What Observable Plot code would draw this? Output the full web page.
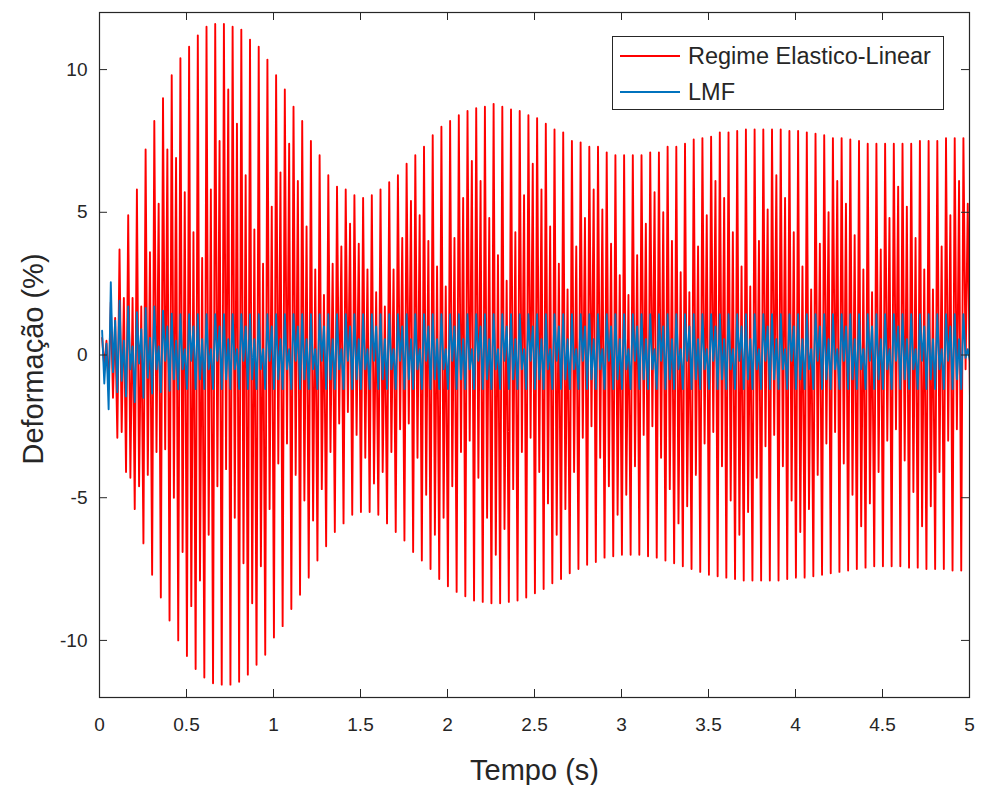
<!DOCTYPE html>
<html>
<head>
<meta charset="utf-8">
<script src="https://cdn.jsdelivr.net/npm/d3@7"></script>
<script src="https://cdn.jsdelivr.net/npm/@observablehq/plot@0.6"></script>
<style>
  html, body { margin: 0; padding: 0; background: #fff; }
  #wrap { position: relative; width: 981px; height: 785px; font-family: "Liberation Sans", Arial, sans-serif; }
  #legend { position: absolute; left: 612px; top: 36px; width: 330px; height: 72px; border: 1px solid #262626; background: #fff; }
  .swatch { position: absolute; left: 7px; width: 60px; height: 2px; }
  .lab { position: absolute; left: 75px; font-size: 23.5px; color: #262626; white-space: nowrap; line-height: 28px; height: 28px; }
</style>
</head>
<body>
<div id="wrap">
  <div id="chart"></div>
  <div id="legend"></div>
</div>
<script>
// ---- Data ----
const seriesNames = ["Regime Elastico-Linear", "LMF"];
const seriesColors = ["#ff0000", "#0072bd"];

// cycle timing (s): one group of strokes every 0.05 s, starting at 0.015 s
const cycleStart = 0.015;
const cyclePeriod = 0.05;

// Regime Elastico-Linear: highest stroke of each group (%)
const redTop = [0.6, 1.85, 3.7, 4.9, 5.8, 7.2, 8.2, 9.0, 9.8, 10.4,
  10.8, 11.2, 11.5, 11.6, 11.6, 11.5, 11.4, 11.05, 10.8, 10.35,
  9.8, 9.3, 8.7, 8.2, 7.5, 7.0, 6.3, 5.9, 5.8, 5.6,
  5.5, 5.6, 5.8, 6.05, 6.3, 6.7, 7.0, 7.3, 7.7, 8.0,
  8.2, 8.4, 8.55, 8.65, 8.7, 8.8, 8.7, 8.6, 8.55, 8.4,
  8.3, 8.1, 7.9, 7.8, 7.5, 7.45, 7.3, 7.3, 7.1, 7.0,
  7.0, 7.0, 7.0, 7.1, 7.1, 7.3, 7.3, 7.4, 7.55, 7.6,
  7.65, 7.8, 7.8, 7.85, 7.9, 7.9, 7.9, 7.9, 7.9, 7.85,
  7.85, 7.8, 7.75, 7.7, 7.6, 7.6, 7.55, 7.5, 7.4, 7.4,
  7.4, 7.4, 7.4, 7.4, 7.5, 7.5, 7.5, 7.6, 7.6, 7.6];
// Regime Elastico-Linear: shorter upward stroke inside each group (%)
const redTopInner = [0.5, 1.3, 2.0, 2.0, 1.7, 3.6, 5.3, 7.2, 6.9, 5.7,
  4.3, 3.4, 5.8, 7.5, 9.3, 8.1, 6.3, 4.4, 3.2, 5.2,
  6.4, 7.4, 6.1, 4.5, 3.0, 2.1, 3.2, 3.8, 4.6, 3.9,
  3.0, 2.2, 1.7, 3.0, 4.1, 5.4, 4.9, 4.0, 3.1, 2.4,
  4.1, 5.5, 6.8, 6.1, 4.8, 3.5, 2.6, 4.3, 5.6, 6.7,
  5.8, 4.5, 3.2, 2.3, 3.8, 4.8, 5.8, 5.1, 3.9, 2.8,
  2.1, 3.5, 4.6, 5.7, 5.0, 4.0, 2.9, 2.2, 3.8, 4.9,
  6.1, 5.5, 4.3, 3.1, 2.4, 4.0, 5.1, 6.3, 5.5, 4.3,
  3.1, 2.3, 3.9, 5.0, 6.1, 5.3, 4.2, 3.0, 2.2, 3.7,
  4.8, 5.9, 5.2, 4.1, 3.0, 2.3, 3.8, 4.9, 6.1, 5.3];
// Regime Elastico-Linear: lowest stroke of each group (%)
const redBottom = [-1.2, -2.9, -4.1, -5.4, -6.6, -7.7, -8.5, -9.3, -10.0, -10.55,
  -11.0, -11.3, -11.5, -11.55, -11.55, -11.45, -11.2, -10.85, -10.5, -9.9,
  -9.5, -8.9, -8.4, -7.8, -7.2, -6.7, -6.2, -5.9, -5.6, -5.5,
  -5.5, -5.6, -5.9, -6.2, -6.5, -6.9, -7.2, -7.5, -7.85, -8.1,
  -8.3, -8.45, -8.6, -8.65, -8.7, -8.7, -8.65, -8.6, -8.5, -8.35,
  -8.2, -8.0, -7.85, -7.65, -7.5, -7.35, -7.25, -7.1, -7.05, -7.0,
  -7.0, -7.0, -7.05, -7.1, -7.2, -7.3, -7.4, -7.5, -7.6, -7.7,
  -7.75, -7.8, -7.85, -7.9, -7.9, -7.9, -7.9, -7.9, -7.85, -7.8,
  -7.8, -7.75, -7.7, -7.65, -7.6, -7.55, -7.5, -7.45, -7.4, -7.4,
  -7.4, -7.4, -7.45, -7.45, -7.5, -7.5, -7.5, -7.55, -7.55, -1.4];
// Regime Elastico-Linear: shorter downward stroke inside each group (%)
const redBottomInner = [-0.4, -1.5, -2.7, -4.3, -4.6, -4.2, -3.4, -3.3, -5.0, -6.9,
  -8.8, -7.9, -6.3, -4.6, -4.0, -5.7, -7.3, -8.7, -7.4, -5.4,
  -3.8, -3.1, -4.2, -5.1, -5.8, -4.7, -3.4, -2.4, -2.0, -2.8,
  -3.6, -4.5, -4.1, -3.4, -2.6, -2.4, -3.6, -4.9, -6.3, -5.7,
  -4.6, -3.4, -3.0, -4.3, -5.7, -7.0, -6.1, -4.7, -3.4, -2.9,
  -4.1, -5.2, -6.3, -5.4, -4.1, -2.9, -2.5, -3.6, -4.6, -5.6,
  -4.9, -3.9, -2.8, -2.5, -3.6, -4.7, -5.9, -5.3, -4.2, -3.1,
  -2.7, -3.9, -5.1, -6.3, -5.5, -4.3, -3.2, -2.8, -3.9, -5.1,
  -6.2, -5.4, -4.2, -3.1, -2.7, -3.8, -4.9, -6.0, -5.2, -4.1,
  -3.0, -2.6, -3.7, -4.8, -6.0, -5.3, -4.1, -3.0, -2.6, -0.5];

// LMF: highest stroke of each group (%), flat at the yield level after ~0.45 s
const blueTop = [0.85, 2.55, 1.9, 1.7, 1.5, 1.65, 1.7, 1.55, 1.45, 1.43,
  1.43, 1.43, 1.43, 1.43, 1.43, 1.43, 1.43, 1.43, 1.43, 1.43,
  1.43, 1.43, 1.43, 1.43, 1.43, 1.43, 1.43, 1.43, 1.43, 1.43,
  1.43, 1.43, 1.43, 1.43, 1.43, 1.43, 1.43, 1.43, 1.43, 1.43,
  1.43, 1.43, 1.43, 1.43, 1.43, 1.43, 1.43, 1.43, 1.43, 1.43,
  1.43, 1.43, 1.43, 1.43, 1.43, 1.43, 1.43, 1.43, 1.43, 1.43,
  1.43, 1.43, 1.43, 1.43, 1.43, 1.43, 1.43, 1.43, 1.43, 1.43,
  1.43, 1.43, 1.43, 1.43, 1.43, 1.43, 1.43, 1.43, 1.43, 1.43,
  1.43, 1.43, 1.43, 1.43, 1.43, 1.43, 1.43, 1.43, 1.43, 1.43,
  1.43, 1.43, 1.43, 1.43, 1.43, 1.43, 1.43, 1.43, 1.43, 1.43];
// LMF: shorter upward stroke inside each group (%)
const blueTopInner = [0.4, 1.2, 0.5, 0.3, 0.9, 0.6, 0.3, 1.0, 0.5, 0.2,
  1.0, 0.55, 0.2, 1.0, 0.55, 0.2, 1.0, 0.55, 0.2, 1.0,
  0.55, 0.2, 1.0, 0.55, 0.2, 1.0, 0.55, 0.2, 1.0, 0.55,
  0.2, 1.0, 0.55, 0.2, 1.0, 0.55, 0.2, 1.0, 0.55, 0.2,
  1.0, 0.55, 0.2, 1.0, 0.55, 0.2, 1.0, 0.55, 0.2, 1.0,
  0.55, 0.2, 1.0, 0.55, 0.2, 1.0, 0.55, 0.2, 1.0, 0.55,
  0.2, 1.0, 0.55, 0.2, 1.0, 0.55, 0.2, 1.0, 0.55, 0.2,
  1.0, 0.55, 0.2, 1.0, 0.55, 0.2, 1.0, 0.55, 0.2, 1.0,
  0.55, 0.2, 1.0, 0.55, 0.2, 1.0, 0.55, 0.2, 1.0, 0.55,
  0.2, 1.0, 0.55, 0.2, 1.0, 0.55, 0.2, 1.0, 0.55, 0.2];
// LMF: lowest stroke of each group (%)
const blueBottom = [-1.9, -1.3, -1.45, -1.65, -1.5, -1.35, -1.3, -1.25, -1.2, -1.19,
  -1.19, -1.19, -1.19, -1.19, -1.19, -1.19, -1.19, -1.19, -1.19, -1.19,
  -1.19, -1.19, -1.19, -1.19, -1.19, -1.19, -1.19, -1.19, -1.19, -1.19,
  -1.19, -1.19, -1.19, -1.19, -1.19, -1.19, -1.19, -1.19, -1.19, -1.19,
  -1.19, -1.19, -1.19, -1.19, -1.19, -1.19, -1.19, -1.19, -1.19, -1.19,
  -1.19, -1.19, -1.19, -1.19, -1.19, -1.19, -1.19, -1.19, -1.19, -1.19,
  -1.19, -1.19, -1.19, -1.19, -1.19, -1.19, -1.19, -1.19, -1.19, -1.19,
  -1.19, -1.19, -1.19, -1.19, -1.19, -1.19, -1.19, -1.19, -1.19, -1.19,
  -1.19, -1.19, -1.19, -1.19, -1.19, -1.19, -1.19, -1.19, -1.19, -1.19,
  -1.19, -1.19, -1.19, -1.19, -1.19, -1.19, -1.19, -1.19, -1.19, -0.2];
// LMF: shorter downward stroke inside each group (%)
const blueBottomInner = [-1.0, -0.6, -0.9, -0.5, -0.3, -0.8, -0.5, -0.2, -0.85, -0.5,
  -0.2, -0.85, -0.5, -0.2, -0.85, -0.5, -0.2, -0.85, -0.5, -0.2,
  -0.85, -0.5, -0.2, -0.85, -0.5, -0.2, -0.85, -0.5, -0.2, -0.85,
  -0.5, -0.2, -0.85, -0.5, -0.2, -0.85, -0.5, -0.2, -0.85, -0.5,
  -0.2, -0.85, -0.5, -0.2, -0.85, -0.5, -0.2, -0.85, -0.5, -0.2,
  -0.85, -0.5, -0.2, -0.85, -0.5, -0.2, -0.85, -0.5, -0.2, -0.85,
  -0.5, -0.2, -0.85, -0.5, -0.2, -0.85, -0.5, -0.2, -0.85, -0.5,
  -0.2, -0.85, -0.5, -0.2, -0.85, -0.5, -0.2, -0.85, -0.5, -0.2,
  -0.85, -0.5, -0.2, -0.85, -0.5, -0.2, -0.85, -0.5, -0.2, -0.85,
  -0.5, -0.2, -0.85, -0.5, -0.2, -0.85, -0.5, -0.2, -0.85, -0.1];

const xTicks = [0, 0.5, 1, 1.5, 2, 2.5, 3, 3.5, 4, 4.5, 5];
const yTicks = [-10, -5, 0, 5, 10];
const xLabel = "Tempo (s)";
const yLabel = "Deformação (%)";

// ---- Build rows: four alternating samples per group (top, low, high, bottom) ----
function samples(top, topIn, bottom, bottomIn, series) {
  const rows = [];
  top.forEach((v, i) => {
    const t = cycleStart + i * cyclePeriod;
    rows.push({series, t, v});
    rows.push({series, t: t + cyclePeriod * 0.25, v: bottomIn[i]});
    rows.push({series, t: t + cyclePeriod * 0.5, v: topIn[i]});
    rows.push({series, t: t + cyclePeriod * 0.75, v: bottom[i]});
  });
  return rows;
}
const redRows = samples(redTop, redTopInner, redBottom, redBottomInner, seriesNames[0]);
const blueRows = samples(blueTop, blueTopInner, blueBottom, blueBottomInner, seriesNames[1]);

const W = 981, H = 785, mL = 99, mR = 12, mT = 12, mB = 88;
const plotH = H - mT - mB, plotW = W - mL - mR;
const ink = "#262626";

const chart = Plot.plot({
  width: W, height: H,
  marginLeft: mL, marginRight: mR, marginTop: mT, marginBottom: mB,
  style: {fontFamily: '"Liberation Sans", Arial, sans-serif', color: ink, background: "#fff"},
  x: {domain: [0, 5]},
  y: {domain: [-12, 12]},
  marks: [
    Plot.line(redRows, {x: "t", y: "v", stroke: seriesColors[0], strokeWidth: 1.9, clip: true}),
    Plot.line(blueRows, {x: "t", y: "v", stroke: seriesColors[1], strokeWidth: 1.9, clip: true}),
    Plot.frame({stroke: ink, strokeWidth: 1.2}),
    // inward ticks on all four sides
    Plot.ruleX(xTicks, {x: d => d, stroke: ink, insetTop: plotH - 8}),
    Plot.ruleX(xTicks, {x: d => d, stroke: ink, insetBottom: plotH - 8}),
    Plot.ruleY(yTicks, {y: d => d, stroke: ink, insetRight: plotW - 8}),
    Plot.ruleY(yTicks, {y: d => d, stroke: ink, insetLeft: plotW - 8}),
    Plot.axisX(xTicks, {tickSize: 0, tickPadding: 20, fontSize: 19, tickFormat: d => String(d), label: null, fill: ink}),
    Plot.axisY(yTicks, {tickSize: 0, tickPadding: 12, fontSize: 19, tickFormat: d => String(d), label: null, fill: ink}),
    Plot.text([xLabel], {frameAnchor: "bottom", dy: 73, lineAnchor: "middle", textAnchor: "middle", fontSize: 29, fill: ink, text: d => d}),
    Plot.text([yLabel], {frameAnchor: "left", dx: -66, dy: 4, rotate: -90, lineAnchor: "middle", textAnchor: "middle", fontSize: 29, fill: ink, text: d => d})
  ]
});
document.getElementById("chart").appendChild(chart);

// legend
const leg = document.getElementById("legend");
const rowsY = [5, 41];
seriesNames.forEach((name, i) => {
  const sw = document.createElement("div");
  sw.className = "swatch";
  sw.style.top = (rowsY[i] + 13) + "px";
  sw.style.background = seriesColors[i];
  leg.appendChild(sw);
  const lb = document.createElement("div");
  lb.className = "lab";
  lb.style.top = rowsY[i] + "px";
  lb.textContent = name;
  leg.appendChild(lb);
});
</script>
</body>
</html>
